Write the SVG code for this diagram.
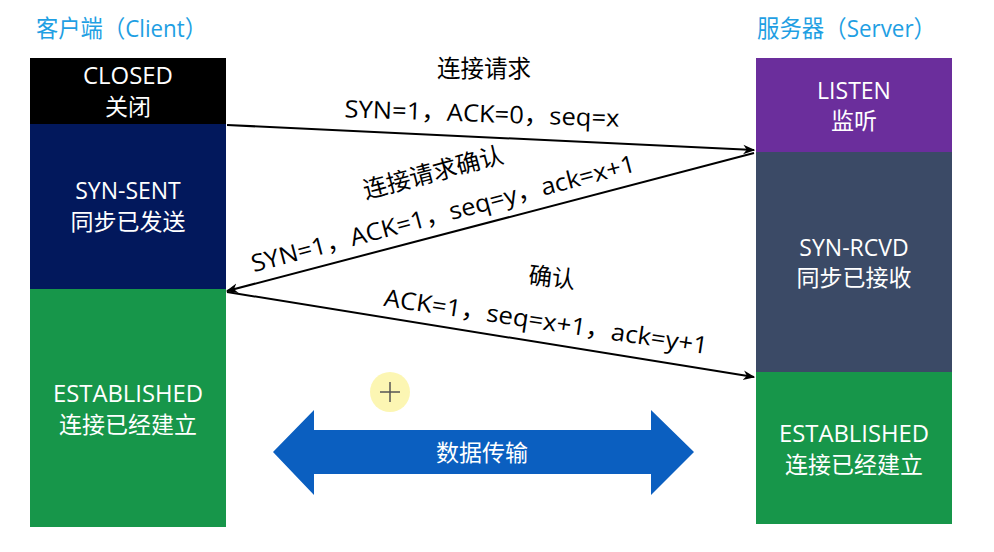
<svg xmlns="http://www.w3.org/2000/svg" width="994" height="552" viewBox="0 0 994 552">
<style>
.t{font-family:"Open Sans","Noto Sans CJK SC",sans-serif;}
.title{fill:#1f9fe3;font-size:24px;}
.box{fill:#fff;font-size:23px;text-anchor:middle;}
.lbl{fill:#000;font-size:24px;text-anchor:middle;}
.ln{stroke:#000;stroke-width:2;fill:none;}
</style>
<defs>
<marker id="ah" viewBox="0 0 10 10" refX="9" refY="5" markerWidth="6" markerHeight="6" orient="auto" markerUnits="strokeWidth">
<path d="M0,1 L10,5 L0,9 L3,5 Z" fill="#000"/>
</marker>
</defs>
<rect width="994" height="552" fill="#fff"/>
<text class="t title" x="36" y="37" textLength="171" lengthAdjust="spacingAndGlyphs">客户端（Client）</text>
<text class="t title" x="757" y="37" textLength="179" lengthAdjust="spacingAndGlyphs">服务器（Server）</text>

<g id="client-closed"><rect x="30" y="58" width="196" height="66" fill="#000"/>
<text class="t box" x="128" y="84" textLength="90" lengthAdjust="spacingAndGlyphs">CLOSED</text><text class="t box" x="128" y="115">关闭</text></g>
<g id="client-synsent"><rect x="30" y="124" width="196" height="165" fill="#02185c"/>
<text class="t box" x="128" y="199">SYN-SENT</text><text class="t box" x="128" y="230">同步已发送</text></g>
<g id="client-established"><rect x="30" y="289" width="196" height="238" fill="#17964a"/>
<text class="t box" x="128" y="402" textLength="150" lengthAdjust="spacingAndGlyphs">ESTABLISHED</text><text class="t box" x="128" y="433">连接已经建立</text></g>

<g id="server-listen"><rect x="756" y="58" width="196" height="94" fill="#6b2e9c"/>
<text class="t box" x="854" y="99">LISTEN</text><text class="t box" x="854" y="129">监听</text></g>
<g id="server-synrcvd"><rect x="756" y="152" width="196" height="220" fill="#3b4a66"/>
<text class="t box" x="854" y="256">SYN-RCVD</text><text class="t box" x="854" y="286">同步已接收</text></g>
<g id="server-established"><rect x="756" y="372" width="196" height="152" fill="#17964a"/>
<text class="t box" x="854" y="442" textLength="150" lengthAdjust="spacingAndGlyphs">ESTABLISHED</text><text class="t box" x="854" y="473">连接已经建立</text></g>

<g id="connectors">
<line class="ln" x1="227" y1="125" x2="754" y2="150" marker-end="url(#ah)"/>
<line class="ln" x1="754" y1="153" x2="227" y2="291" marker-end="url(#ah)"/>
<line class="ln" x1="227" y1="292" x2="754" y2="377" marker-end="url(#ah)"/>
</g>

<g id="labels">
<text class="t lbl" x="484" y="77" textLength="94" lengthAdjust="spacingAndGlyphs">连接请求</text>
<text class="t lbl" x="482" y="122" textLength="275" lengthAdjust="spacingAndGlyphs" transform="rotate(2 482 114)">SYN=1，ACK=0，seq=x</text>
<text class="t lbl" x="433" y="181" textLength="144" lengthAdjust="spacingAndGlyphs" transform="rotate(-14.8 433 172)">连接请求确认</text>
<text class="t lbl" x="443" y="222" textLength="396" lengthAdjust="spacingAndGlyphs" transform="rotate(-14.8 443 213)">SYN=1，ACK=1，seq=y，ack=x+1</text>
<text class="t lbl" x="552" y="286" textLength="47" lengthAdjust="spacingAndGlyphs" transform="rotate(6 552 277)">确认</text>
<text class="t lbl" x="546" y="330" textLength="327" lengthAdjust="spacingAndGlyphs" transform="rotate(8.5 546 321)">ACK=1，seq=x+1，ack=y+1</text>
</g>

<g id="cursor">
<circle cx="390" cy="392" r="20" fill="#fbf5a6" opacity="0.85"/>
<path d="M380,392 H400 M390,382 V402" stroke="#555" stroke-width="1.5"/>
</g>

<g id="data-transfer">
<polygon points="273,452 314,410 314,430 651,430 651,410 694,452 651,495 651,474 314,474 314,495" fill="#0b5fc0"/>
<text class="t box" x="482" y="461" font-size="24">数据传输</text>
</g>
</svg>
